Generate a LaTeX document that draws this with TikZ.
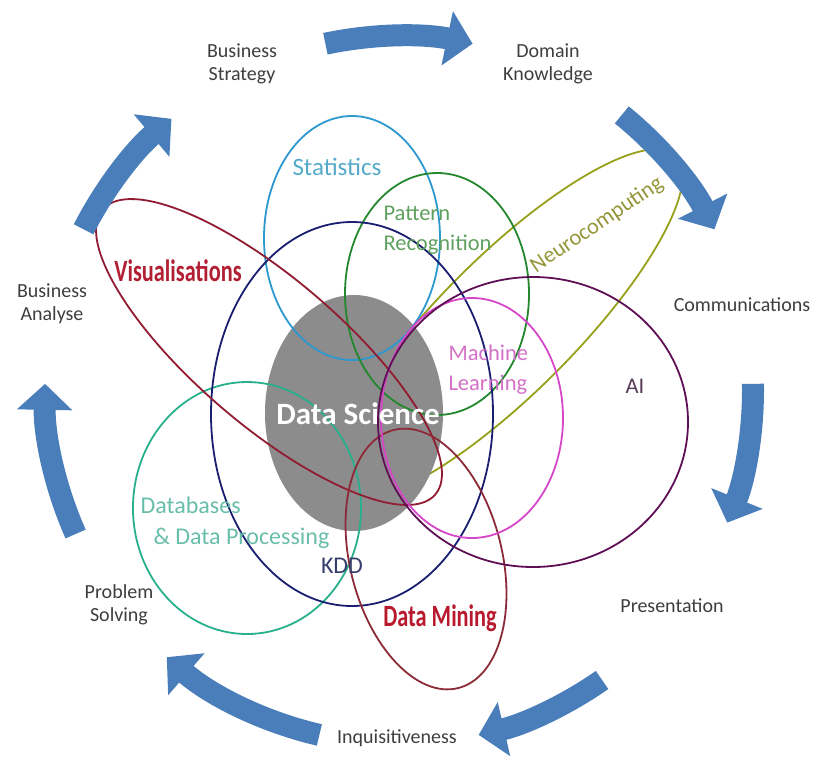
\documentclass[tikz,border=0pt]{standalone}
\usepackage{fontspec}
\setmainfont{Carlito}
\usepackage{graphicx}
\usetikzlibrary{arrows.meta,calc}

\definecolor{cycleblue}{RGB}{74,126,187}
\definecolor{outertext}{RGB}{62,62,62}
\definecolor{dsgray}{RGB}{140,140,140}
\definecolor{statline}{RGB}{45,152,208}
\definecolor{stattext}{RGB}{84,170,200}
\definecolor{patternline}{RGB}{35,135,45}
\definecolor{patterntext}{RGB}{95,160,95}
\definecolor{kddline}{RGB}{25,30,112}
\definecolor{kddtext}{RGB}{55,62,108}
\definecolor{visline}{RGB}{145,28,50}
\definecolor{vistext}{RGB}{178,30,50}
\definecolor{miningline}{RGB}{140,42,55}
\definecolor{miningtext}{RGB}{185,25,45}
\definecolor{mlline}{RGB}{215,70,200}
\definecolor{mltext}{RGB}{212,112,200}
\definecolor{ailine}{RGB}{95,15,85}
\definecolor{aitext}{RGB}{88,60,88}
\definecolor{neuroline}{RGB}{150,160,25}
\definecolor{neurotext}{RGB}{150,150,60}
\definecolor{dbline}{RGB}{40,175,140}
\definecolor{dbtext}{RGB}{105,190,170}

\newcommand{\narrowbold}[1]{\scalebox{0.72}[1]{\bfseries #1}}

\begin{document}
\begin{tikzpicture}[x=1pt, y=-1pt,
    ring/.style={line width=1.8pt},
    outer/.style={text=outertext, font=\fontsize{20}{23}\selectfont, align=center},
    inner/.style={font=\fontsize{22.5}{30}\selectfont},
    cyclearrow/.style={cycleblue, line width=22pt, -{Triangle[width=54pt,length=26pt]}}]
  \useasboundingbox (0,0) rectangle (832,772);
  \coordinate (hub) at (399,390);

  \draw[ring, neuroline, rotate around={45:(507,325)}] (507,325) ellipse [x radius=239, y radius=68];
  \fill[dsgray] (354,413) ellipse [x radius=89, y radius=118];
  \draw[ring, statline] (352,238) ellipse [x radius=88, y radius=122];
  \draw[ring, patternline] (437,294) ellipse [x radius=92, y radius=121];
  \draw[ring, dbline] (247,508) ellipse [x radius=114, y radius=126];
  \draw[ring, kddline] (352,414) ellipse [x radius=141, y radius=192];
  \draw[ring, visline, rotate around={-40.6:(269,352)}] (269,352) ellipse [x radius=219, y radius=73];
  \draw[ring, miningline, rotate around={14:(426,559)}] (426,559) ellipse [x radius=76, y radius=133];
  \draw[ring, mlline] (472,418) ellipse [x radius=91, y radius=120];
  \draw[ring, ailine] (533,422) ellipse [x radius=155, y radius=145];

  \node[inner, text=stattext, font=\fontsize{25}{30}\selectfont] (stats) at (337,167) {Statistics};
  \node[inner, text=patterntext, align=left, anchor=west] (pattern) at (380,230) {Pattern\\Recognition};
  \node[inner, text=neurotext, rotate=34] (neuro) at (597,225) {Neurocomputing};
  \node[text=vistext, font=\fontsize{31}{36}\selectfont] (vis) at (178,271) {\narrowbold{Visualisations}};
  \node[inner, text=mltext, align=left, anchor=west] (ml) at (445,370) {Machine\\Learning};
  \node[inner, text=aitext] (ai) at (635,386) {AI};
  \node[text=white, font=\fontsize{31}{36}\selectfont\bfseries] (ds) at (358,414) {Data Science};
  \node[inner, text=dbtext, font=\fontsize{24}{31}\selectfont, align=left, anchor=west] (db) at (137,523) {Databases\\\hspace*{13pt}\& Data Processing};
  \node[inner, text=kddtext, font=\fontsize{24}{30}\selectfont] (kdd) at (342,566) {KDD};
  \node[text=miningtext, font=\fontsize{31}{36}\selectfont] (mining) at (440,618) {\narrowbold{Data Mining}};

  \node[outer] (strategy) at (242,64) {Business\\Strategy};
  \node[outer] (domain) at (548,64) {Domain\\Knowledge};
  \node[outer] (comms) at (742,305) {Communications};
  \node[outer] (present) at (672,606) {Presentation};
  \node[outer] (inquis) at (397,738) {Inquisitiveness};
  \node[outer] (problem) at (119,605) {Problem\\Solving};
  \node[outer] (analyse) at (52,304) {Business\\Analyse};

  \foreach \from/\to [count=\k] in {-102/-78, -51/-27, -1/22, 55/77, 103/131, 156/181, 207/230}
    \draw[cyclearrow] ($(hub)+(\from:354)$) coordinate (tail\k) arc[start angle=\from, end angle=\to, radius=354];
\end{tikzpicture}
\end{document}
